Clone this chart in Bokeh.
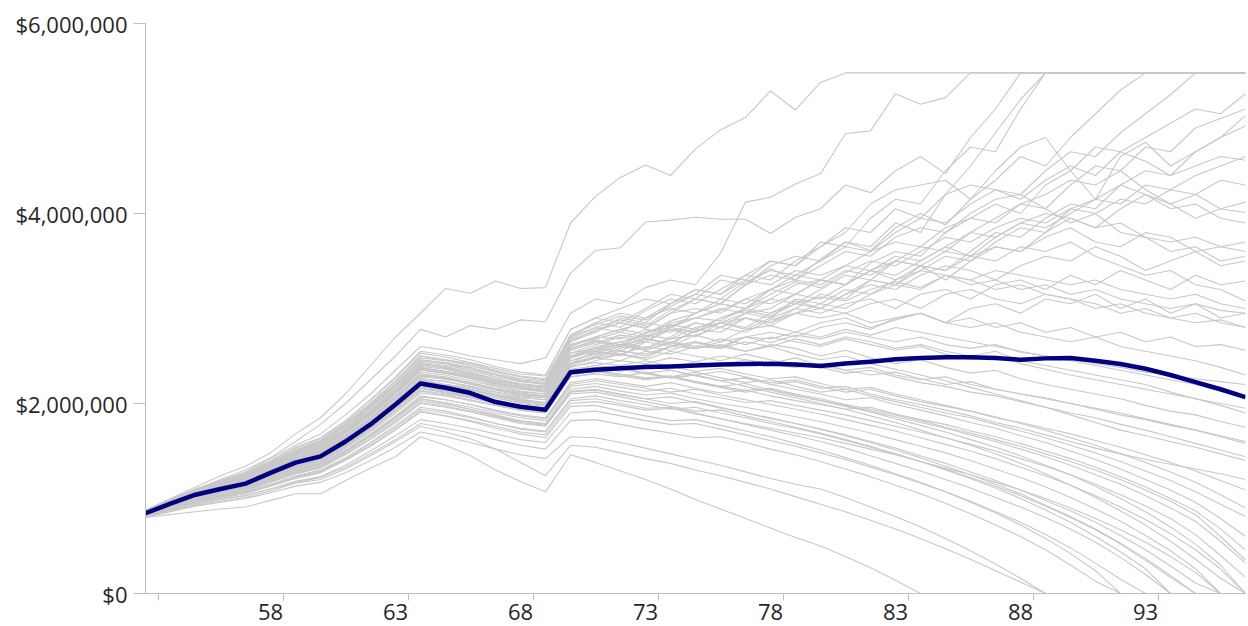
from bokeh.plotting import figure
from bokeh.models import Range1d, FixedTicker, NumeralTickFormatter
from bokeh.embed import file_html
from bokeh.resources import INLINE

ages = list(range(53, 98))
x_tick_labels = [58, 63, 68, 73, 78, 83, 88, 93]
x_tick_marks = [53.5, 58.5, 63.5, 68.5, 73.5, 78.5, 83.5, 88.5, 93.5]
y_ticks = [0, 2000000, 4000000, 6000000]

# median portfolio value ($ thousands), ages 53..97
median_k = [845,945,1040,1100,1157,1270,1377,1444,1600,1780,1990,2210, 2165,2110,2015,1965,1935, 2330,2355,2370,2383,2390,2400,2410,2415,2418,2410, 2395,2420,2440,2465,2480,2488,2488,2480,2460,2475, 2480,2450,2415,2366,2300,2225,2150,2067]

# simulated paths ($ thousands), ages 53..97
sim01 = [880,1000,1120,1240,1340,1480,1680,1850,2100,2400,2700,2950, 3210,3160,3290,3210,3220, 3900,4180,4380,4510,4400,4680,4880,5010,5290,5090, 5380,5480,5480,5480,5480,5480,5480,5480,5480,5480, 5480,5480,5480,5480,5480,5480,5480,5480]
sim02 = [860,980,1090,1200,1300,1430,1600,1780,2000,2250,2500,2780, 2700,2820,2780,2880,2860, 3370,3610,3640,3910,3930,3960,3940,3940,3790,3960, 4050,4300,4220,4450,4600,4420,4800,5100,5480,5480, 5480,5480,5480,5480,5480,5480,5480,5480]
sim03 = [870,990,1100,1190,1280,1420,1560,1680,1880,2100,2350,2600, 2560,2500,2460,2420,2480, 2950,3100,3050,3220,3300,3250,3580,4120,4170,4310, 4420,4840,4870,5260,5150,5220,5480,5480,5480,5480, 5480,5480,5480,5480,5480,5480,5480,5480]
sim04 = [850,960,1070,1150,1230,1350,1480,1570,1740,1950,2180,2420, 2390,2330,2260,2200,2180, 2650,2780,2850,2790,2950,3100,3050,3250,3420,3300, 3520,3700,3610,3850,4000,3880,4150,4350,4600,4500, 4800,5050,5300,5480,5480,5480,5480,5480]
sim05 = [840,940,1030,1110,1180,1300,1420,1510,1680,1880,2100,2350, 2320,2280,2200,2150,2120, 2580,2660,2600,2750,2800,2900,3000,2950,3100,3250, 3300,3250,3480,3600,3550,3800,3950,4100,4000,4300, 4450,4700,4650,4800,4950,5100,5050,5260]
sim06 = [860,970,1080,1160,1240,1360,1490,1600,1770,1980,2200,2450, 2420,2350,2300,2240,2200, 2700,2850,2800,2980,3100,3050,3200,3350,3300,3500, 3650,3800,4100,4250,4300,4350,4150,4450,4700,4800, 4450,4150,4600,4750,4500,4650,4800,4920]
sim07 = [830,930,1020,1090,1160,1270,1390,1480,1640,1830,2050,2280, 2260,2200,2140,2080,2060, 2500,2600,2650,2580,2700,2850,2800,2950,3000,3150, 3100,3250,3400,3350,3500,3650,3550,3750,3900,3850, 4000,4150,4100,4300,4250,4400,4500,4600]
sim08 = [850,950,1050,1130,1200,1320,1450,1540,1710,1910,2130,2380, 2340,2300,2230,2180,2150, 2600,2700,2780,2850,2800,2950,3050,3000,3200,3350, 3300,3450,3600,3700,3650,3850,3950,3900,4100,4200, 4350,4300,4450,4250,4100,4200,4050,4120]
sim09 = [820,920,1010,1080,1140,1250,1360,1440,1600,1790,2000,2230, 2200,2170,2100,2050,2000, 2420,2550,2500,2650,2780,2700,2850,2950,2900,3100, 3050,3200,3150,3300,3450,3400,3550,3650,3600,3800, 3950,3850,4050,4200,4100,3950,4050,4010]
sim10 = [860,960,1060,1140,1210,1330,1460,1550,1720,1920,2150,2400, 2380,2310,2250,2200,2170, 2620,2680,2750,2700,2850,2900,2980,3100,3050,3150, 3300,3250,3400,3500,3450,3300,3500,3650,3600,3750, 3850,3700,3650,3800,3750,3600,3650,3700]
sim11 = [840,940,1040,1120,1190,1300,1420,1510,1680,1870,2090,2330, 2300,2240,2180,2120,2100, 2530,2620,2700,2650,2800,2750,2900,3000,2950,3080, 3000,3150,3250,3200,3350,3450,3400,3300,3450,3550, 3500,3650,3550,3400,3500,3600,3450,3500]
sim12 = [830,930,1030,1110,1180,1290,1410,1500,1660,1850,2070,2300, 2250,2220,2150,2100,2080, 2500,2580,2650,2720,2680,2800,2850,2780,2900,3000, 2950,3050,3100,3000,3150,3200,3100,3250,3300,3200, 3350,3250,3400,3300,3200,3350,3250,3290]
sim13 = [870,980,1090,1170,1250,1370,1500,1600,1780,1990,2220,2480, 2450,2400,2330,2260,2240, 2700,2800,2750,2900,3000,2950,3100,3050,3200,3300, 3250,3400,3350,3500,3450,3600,3550,3500,3650,3600, 3700,3550,3450,3350,3400,3250,3200,3080]
sim14 = [820,910,1000,1070,1130,1230,1340,1420,1570,1760,1970,2190, 2160,2120,2060,2010,1980, 2380,2450,2520,2480,2600,2650,2580,2700,2750,2700, 2800,2850,2780,2900,2950,2850,3000,3050,2950,3100, 3050,3150,3000,3100,2950,3050,2900,2950]
sim15 = [850,950,1050,1130,1200,1310,1440,1530,1700,1900,2120,2360, 2330,2280,2210,2160,2130, 2560,2650,2600,2700,2780,2750,2850,2900,2820,2950, 3000,2950,3050,3100,3000,3150,3200,3100,3050,3150, 3100,3000,3050,2950,2900,2950,2850,2800]
sim16 = [840,940,1030,1100,1170,1280,1400,1490,1650,1840,2060,2290, 2260,2210,2150,2100,2070, 2480,2560,2620,2580,2680,2720,2650,2780,2820,2750, 2850,2900,2800,2880,2950,2850,2900,2800,2850,2750, 2800,2700,2750,2650,2700,2600,2620,2560]
sim17 = [860,960,1060,1140,1220,1340,1470,1560,1730,1930,2160,2410, 2370,2320,2260,2210,2180, 2620,2700,2680,2780,2750,2850,2800,2900,2850,2950, 2900,2950,2850,2900,2950,2850,2800,2850,2750,2700, 2650,2700,2600,2550,2500,2450,2380,2300]
sim18 = [830,920,1010,1080,1140,1240,1350,1430,1590,1780,1990,2210, 2180,2140,2080,2030,2000, 2400,2480,2450,2550,2520,2600,2580,2650,2600,2680, 2620,2700,2650,2580,2620,2550,2500,2550,2450,2400, 2350,2300,2250,2200,2120,2050,1980,1900]
sim19 = [850,950,1040,1110,1180,1290,1410,1490,1660,1850,2070,2310, 2280,2220,2160,2110,2080, 2500,2550,2520,2600,2560,2640,2600,2550,2620,2580, 2500,2560,2480,2420,2460,2380,2320,2350,2260,2200, 2150,2100,2050,1980,1920,1880,1810,1750]
sim20 = [820,910,1000,1060,1120,1220,1330,1410,1560,1740,1940,2160, 2130,2080,2020,1980,1950, 2340,2400,2450,2420,2480,2440,2500,2460,2420,2480, 2400,2350,2380,2300,2250,2280,2200,2150,2100,2060, 2000,1950,1900,1840,1780,1720,1650,1580]
sim21 = [840,930,1020,1090,1150,1260,1380,1460,1620,1810,2020,2250, 2200,2150,2090,2040,2010, 2420,2480,2520,2460,2550,2500,2450,2520,2460,2400, 2380,2320,2350,2280,2220,2180,2120,2080,2020,1960, 1900,1850,1780,1720,1650,1580,1510,1440]
sim22 = [860,950,1040,1110,1170,1270,1380,1450,1600,1780,1980,2200, 2150,2100,2040,1980,1950, 2350,2380,2340,2400,2350,2300,2340,2280,2220,2250, 2180,2120,2150,2080,2020,1970,1920,1850,1800,1740, 1680,1610,1540,1460,1380,1290,1190,1090]
sim23 = [830,920,1000,1060,1120,1210,1310,1380,1530,1700,1900,2110, 2080,2030,1980,1930,1900, 2280,2320,2360,2310,2280,2330,2270,2220,2250,2180, 2120,2150,2080,2020,1960,1900,1850,1780,1710,1640, 1560,1480,1390,1290,1190,1070,940,810]
sim24 = [850,940,1030,1100,1160,1260,1370,1450,1610,1790,2000,2230, 2180,2120,2060,2000,1970, 2360,2400,2370,2320,2350,2290,2240,2270,2200,2150, 2100,2040,2060,1990,1930,1870,1800,1740,1660,1590, 1500,1410,1310,1200,1090,960,790,600]
sim25 = [820,900,980,1040,1100,1190,1290,1360,1500,1670,1860,2070, 2040,1990,1930,1880,1850, 2220,2260,2220,2180,2220,2160,2110,2140,2080,2030, 1990,1940,1960,1890,1830,1780,1710,1650,1580,1500, 1420,1330,1230,1120,1000,870,680,460]
sim26 = [840,930,1010,1070,1130,1230,1340,1410,1560,1740,1940,2160, 2110,2060,2000,1940,1910, 2300,2340,2290,2250,2280,2220,2170,2120,2150,2090, 2030,1980,1920,1860,1800,1740,1670,1600,1520,1440, 1350,1250,1150,1030,900,760,550,320]
sim27 = [810,890,970,1030,1090,1180,1280,1350,1490,1660,1850,2050, 2010,1960,1900,1850,1820, 2180,2210,2170,2130,2160,2100,2060,2010,2030,1980, 1930,1880,1820,1760,1700,1640,1570,1500,1420,1340, 1250,1150,1040,920,790,620,400,170]
sim28 = [830,910,990,1050,1110,1200,1300,1370,1510,1680,1870,2080, 2040,1990,1920,1870,1840, 2200,2240,2200,2160,2120,2150,2090,2040,1990,1940, 1890,1830,1770,1710,1640,1570,1500,1420,1330,1240, 1140,1030,910,780,630,460,260,0]
sim29 = [820,900,980,1040,1090,1180,1270,1340,1480,1650,1830,2030, 1990,1940,1880,1820,1790, 2150,2180,2130,2090,2110,2050,2000,1960,1910,1860, 1810,1750,1690,1620,1550,1480,1400,1310,1220,1120, 1010,890,760,610,450,260,0,0]
sim30 = [840,920,1000,1060,1110,1200,1300,1360,1500,1670,1850,2050, 2000,1940,1870,1810,1780, 2130,2150,2100,2050,2070,2010,1950,1900,1840,1790, 1730,1670,1600,1530,1450,1370,1280,1190,1090,980, 870,750,610,460,290,110,0,0]
sim31 = [810,890,960,1010,1060,1140,1230,1290,1420,1580,1750,1940, 1900,1850,1790,1740,1710, 2050,2080,2030,1990,1940,1960,1900,1850,1790,1740, 1680,1610,1540,1470,1390,1310,1220,1130,1030,920, 800,670,520,350,170,0,0,0]
sim32 = [830,900,970,1020,1070,1150,1240,1300,1430,1590,1770,1960, 1920,1860,1790,1730,1700, 2030,2050,2000,1950,1960,1900,1840,1780,1720,1660, 1600,1530,1450,1370,1290,1200,1110,1010,910,800, 680,540,380,200,0,0,0,0]
sim33 = [800,870,940,990,1030,1100,1180,1230,1350,1500,1660,1830, 1790,1740,1680,1620,1590, 1900,1920,1870,1820,1780,1790,1730,1670,1610,1550, 1480,1410,1330,1250,1160,1070,970,860,750,620, 480,320,150,0,0,0,0,0]
sim34 = [810,880,950,990,1030,1100,1170,1220,1330,1470,1620,1790, 1740,1690,1620,1560,1520, 1820,1830,1780,1730,1690,1640,1650,1590,1520,1460, 1390,1310,1230,1140,1050,950,840,720,600,460, 300,130,0,0,0,0,0,0]
sim35 = [800,860,920,960,1000,1060,1130,1170,1270,1400,1540,1700, 1650,1590,1520,1460,1420, 1650,1640,1590,1530,1470,1410,1350,1280,1210,1150, 1100,1010,910,810,700,580,450,310,160,0, 0,0,0,0,0,0,0,0]
sim36 = [800,830,860,890,910,980,1050,1050,1190,1320,1440,1650, 1560,1450,1300,1180,1070, 1460,1380,1290,1200,1100,990,890,790,690,590, 500,390,270,140,0,0,0,0,0,0, 0,0,0,0,0,0,0,0]
sim37 = [810,870,930,970,1010,1080,1160,1200,1310,1450,1600,1760, 1700,1630,1520,1380,1240, 1560,1540,1480,1420,1370,1300,1240,1170,1100,1020, 940,860,770,680,580,470,360,240,120,0, 0,0,0,0,0,0,0,0]
sim38 = [870,980,1090,1180,1260,1390,1530,1630,1810,2030,2270,2530, 2490,2430,2370,2310,2290, 2780,2900,2850,3000,3150,3100,3300,3250,3450,3550, 3500,3700,3650,3900,3800,4200,4500,4850,5200,5480, 5480,5480,5480,5480,5480,5480,5480,5480]
sim39 = [840,940,1030,1100,1170,1280,1400,1480,1650,1850,2060,2300, 2270,2210,2150,2090,2060, 2480,2580,2550,2680,2620,2780,2750,2900,2850,3000, 3150,3100,3300,3250,3450,3400,3600,3800,3750,3950, 4100,4050,4300,4450,4400,4650,4800,5030]
sim40 = [850,960,1050,1120,1180,1290,1400,1470,1630,1820,2030,2260, 2230,2180,2120,2070,2040, 2450,2520,2560,2500,2600,2650,2600,2700,2680,2750, 2700,2780,2720,2800,2750,2700,2650,2600,2550,2500, 2450,2400,2350,2300,2250,2200,2130,2070]
sim41 = [860,970,1080,1160,1240,1360,1490,1590,1760,1970,2200,2460, 2430,2380,2310,2250,2220, 2680,2800,2880,2820,2980,3100,3050,3250,3350,3300, 3450,3600,3550,3750,3850,3800,4000,4150,4200,4050, 3900,4000,3800,3750,3600,3650,3500,3550]
sim42 = [880,990,1100,1190,1270,1400,1540,1640,1820,2040,2280,2550, 2510,2460,2390,2330,2300, 2780,2900,3000,3100,3050,3200,3150,3300,3250,3400, 3350,3450,3400,3300,3400,3350,3250,3300,3200,3250, 3150,3200,3100,3050,3000,3050,2980,2950]
sim43 = [870,970,1070,1150,1220,1340,1460,1540,1710,1900,2120,2370, 2320,2260,2190,2130,2100, 2530,2580,2620,2560,2640,2580,2620,2550,2600,2520, 2460,2500,2420,2360,2300,2240,2170,2100,2030,1960, 1880,1800,1720,1660,1600,1540,1470,1400]
sim44 = [850,940,1020,1090,1150,1250,1360,1430,1580,1760,1960,2180, 2140,2090,2030,1970,1940, 2320,2340,2380,2320,2270,2300,2240,2180,2120,2060, 2000,1940,1870,1800,1720,1640,1560,1470,1370,1260, 1140,1010,870,720,550,360,160,0]
sim45 = [870,980,1080,1170,1250,1370,1510,1610,1790,2000,2240,2500, 2460,2400,2340,2280,2250, 2720,2850,2950,2900,3050,3150,3350,3300,3500,3450, 3650,3850,3800,4050,3950,4200,4300,4250,4150,4350, 4500,4400,4650,4550,4400,4500,4600,4560]
sim46 = [830,920,1010,1080,1140,1250,1360,1440,1590,1780,1990,2220, 2190,2140,2080,2030,2010, 2420,2500,2580,2650,2600,2720,2800,2750,2880,2950, 3050,3000,3150,3250,3200,3350,3300,3200,3250,3150, 3100,3050,2950,3000,2900,2850,2880,2800]
sim47 = [840,930,1010,1070,1130,1230,1330,1400,1550,1720,1920,2130, 2090,2040,1980,1930,1900, 2280,2310,2280,2330,2270,2300,2240,2270,2200,2230, 2160,2180,2100,2040,1990,1930,1870,1800,1740,1670, 1600,1530,1470,1410,1360,1310,1260,1200]
sim48 = [820,900,980,1030,1080,1170,1260,1320,1460,1620,1800,2000, 1960,1910,1850,1790,1760, 2100,2120,2070,2020,1970,1920,1930,1870,1810,1750, 1690,1620,1550,1470,1390,1300,1210,1110,1000,880, 750,600,440,260,0,0,0,0]
sim49 = [860,970,1070,1150,1230,1350,1480,1570,1740,1950,2180,2430, 2400,2350,2280,2230,2200, 2650,2750,2900,2850,3050,3200,3150,3350,3500,3450, 3700,3650,3950,4150,4100,4450,4700,4650,5100,5480, 5480,5480,5480,5480,5480,5480,5480,5480]
sim50 = [850,950,1050,1130,1200,1310,1430,1520,1690,1890,2110,2360, 2320,2270,2210,2160,2130, 2560,2640,2720,2680,2820,2900,2870,3000,3100,3050, 3200,3350,3300,3500,3650,3600,3800,3950,4100,4050, 4300,4500,4450,4700,4650,4900,5000,5100]
sim51 = [830,930,1020,1090,1160,1270,1390,1470,1630,1820,2030,2260, 2230,2180,2120,2060,2040, 2450,2530,2600,2680,2640,2760,2850,2800,2950,3050, 3000,3150,3300,3250,3400,3550,3500,3700,3850,3800, 4050,4150,4300,4200,4050,4100,3950,3900]
sim52 = [860,960,1060,1140,1210,1330,1450,1540,1700,1900,2120,2370, 2330,2290,2220,2170,2140, 2580,2670,2620,2750,2830,2780,2900,2980,2920,3050, 3120,3080,3200,3280,3220,3350,3300,3400,3350,3300, 3250,3300,3200,3150,3100,3150,3050,3000]
sim53 = [840,930,1020,1090,1150,1260,1370,1450,1610,1790,2000,2230, 2200,2150,2090,2040,2010, 2420,2490,2550,2520,2600,2580,2650,2700,2640,2720, 2680,2750,2700,2650,2700,2620,2580,2620,2540,2500, 2470,2420,2380,2330,2300,2260,2230,2200]
sim54 = [820,910,990,1050,1110,1210,1320,1390,1540,1720,1920,2140, 2100,2060,2000,1950,1920, 2310,2370,2340,2410,2380,2440,2400,2460,2410,2380, 2420,2350,2300,2330,2260,2200,2230,2150,2100,2050, 2000,1940,1880,1830,1770,1720,1660,1600]
sim55 = [850,940,1030,1090,1150,1250,1360,1430,1580,1760,1960,2180, 2140,2080,2020,1960,1930, 2320,2350,2310,2270,2290,2230,2180,2210,2140,2080, 2030,1970,1910,1840,1770,1700,1620,1540,1450,1350, 1250,1130,1000,860,700,520,300,0]
sim56 = [820,900,970,1030,1080,1170,1260,1330,1470,1630,1810,2010, 1970,1920,1860,1800,1770, 2120,2140,2090,2050,2000,2020,1960,1900,1850,1790, 1730,1660,1590,1510,1430,1340,1250,1150,1050,930, 810,680,530,370,190,0,0,0]
sim57 = [860,950,1040,1110,1170,1280,1390,1470,1630,1810,2020,2250, 2200,2150,2080,2020,1990, 2390,2430,2400,2450,2390,2340,2370,2310,2260,2280, 2210,2150,2170,2100,2040,1980,1920,1860,1790,1720, 1640,1560,1470,1380,1280,1170,1040,900]
sim58 = [810,880,950,1000,1050,1130,1210,1270,1400,1550,1720,1910, 1870,1820,1760,1700,1670, 2000,2020,1980,1930,1950,1890,1840,1790,1740,1690, 1640,1580,1520,1460,1390,1320,1250,1170,1090,1000, 900,790,670,540,390,220,0,0]
sim59 = [830,920,1000,1070,1130,1230,1340,1410,1560,1740,1940,2160, 2120,2070,2010,1950,1920, 2310,2340,2300,2260,2290,2230,2180,2140,2160,2100, 2050,1990,1940,1880,1820,1750,1690,1620,1550,1470, 1390,1300,1200,1090,970,830,600,350]
sim60 = [870,980,1080,1160,1240,1360,1490,1580,1760,1960,2190,2450, 2420,2370,2300,2240,2210, 2670,2760,2850,2800,2950,3000,2950,3100,3200,3150, 3300,3250,3400,3550,3500,3650,3800,3750,3900,4000, 3950,3850,3900,3750,3700,3750,3650,3600]
sim61 = [850,950,1040,1110,1180,1290,1410,1500,1660,1850,2070,2310, 2270,2210,2150,2100,2070, 2480,2550,2600,2560,2650,2600,2680,2620,2700,2650, 2600,2680,2620,2560,2600,2520,2460,2500,2420,2360, 2300,2250,2200,2150,2100,2050,2000,1950]
sim62 = [820,890,960,1010,1060,1140,1220,1280,1410,1560,1730,1920, 1870,1810,1740,1680,1640, 1970,1980,1920,1870,1820,1830,1770,1710,1650,1580, 1510,1430,1350,1260,1170,1070,960,850,720,580, 420,240,0,0,0,0,0,0]
sim63 = [860,960,1060,1140,1220,1340,1460,1550,1720,1920,2140,2390, 2360,2300,2240,2190,2160, 2600,2700,2780,2730,2870,2950,3050,3000,3150,3280, 3220,3380,3500,3450,3600,3750,3700,3850,3950,3900, 4050,4000,4150,4100,4250,4200,4350,4300]
sim64 = [870,980,1090,1170,1250,1380,1510,1610,1790,2000,2240,2500, 2460,2420,2350,2290,2260, 2720,2830,2920,2880,3020,3150,3100,3280,3400,3350, 3500,3650,3600,3800,3950,3900,4100,4250,4200,4450, 4650,4600,4850,5050,5250,5480,5480,5480]

sims = [sim01, sim02, sim03, sim04, sim05, sim06, sim07, sim08, sim09, sim10,
        sim11, sim12, sim13, sim14, sim15, sim16, sim17, sim18, sim19, sim20,
        sim21, sim22, sim23, sim24, sim25, sim26, sim27, sim28, sim29, sim30,
        sim31, sim32, sim33, sim34, sim35, sim36, sim37, sim38, sim39, sim40,
        sim41, sim42, sim43, sim44, sim45, sim46, sim47, sim48, sim49, sim50,
        sim51, sim52, sim53, sim54, sim55, sim56, sim57, sim58, sim59, sim60,
        sim61, sim62, sim63, sim64]
for i, s in enumerate(sims):
    assert len(s) == len(ages), (i + 1, len(s))
assert len(median_k) == len(ages), len(median_k)

FONT = "Open Sans"
TEXT = "#262626"
AXIS = "#bfbfbf"

p = figure(width=1248, height=626, output_backend="svg", toolbar_location=None,
           x_range=Range1d(53, 97), y_range=Range1d(0, 6000000),
           min_border_left=145, min_border_right=3, min_border_top=23, min_border_bottom=33)
p.outline_line_color = None
p.grid.visible = False
p.background_fill_color = "white"
p.border_fill_color = "white"

p.multi_line(xs=[ages[:len(s)] for s in sims],
             ys=[[v * 1000 for v in s] for s in sims],
             line_color="#c8c8c8", line_width=1.1)
p.line(ages, [v * 1000 for v in median_k], line_color="#000080", line_width=4.5,
       line_join="round")

# y axis
ya = p.yaxis[0]
ya.ticker = FixedTicker(ticks=y_ticks)
ya.formatter = NumeralTickFormatter(format="$0,0")
ya.axis_line_color = AXIS
ya.major_tick_line_color = AXIS
ya.major_tick_out = 12
ya.major_tick_in = 0
ya.minor_tick_line_color = None
ya.major_label_standoff = 6
ya.major_label_text_font = FONT
ya.major_label_text_font_size = "22px"
ya.major_label_text_color = TEXT

# x axis: labels on the ages, tick marks half a year to the right
xa = p.xaxis[0]
xa.ticker = FixedTicker(ticks=x_tick_labels, minor_ticks=x_tick_marks)
xa.axis_line_color = AXIS
xa.major_tick_line_color = None
xa.major_tick_out = 0
xa.major_tick_in = 0
xa.minor_tick_line_color = AXIS
xa.minor_tick_out = 7
xa.minor_tick_in = 0
xa.major_label_standoff = 3
xa.major_label_text_font = FONT
xa.major_label_text_font_size = "22px"
xa.major_label_text_color = TEXT

open("out.html", "w").write(file_html(p, INLINE))
